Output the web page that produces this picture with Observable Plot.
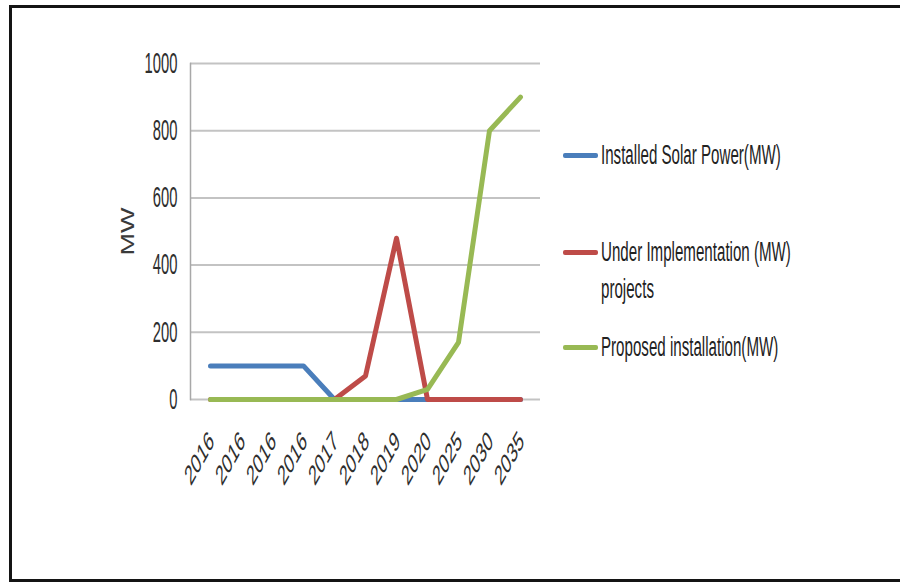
<!DOCTYPE html>
<html>
<head>
<meta charset="utf-8">
<script src="https://cdn.jsdelivr.net/npm/d3@7"></script>
<script src="https://cdn.jsdelivr.net/npm/@observablehq/plot@0.6"></script>
<style>
  html, body { margin: 0; padding: 0; background: #fff; }
  #wrap { position: relative; width: 900px; height: 582px; overflow: hidden;
          font-family: "Liberation Sans", Arial, sans-serif; }
  #frame { position: absolute; left: 9px; top: 5px; width: 940px; height: 577px;
           box-sizing: border-box; border: 3px solid #141414; }
  #chart { position: absolute; left: 0; top: 0; }
  .item { position: absolute; left: 563px; }
  .swatch { position: absolute; left: 0; width: 35px; height: 5px; border-radius: 2px; }
  .label { position: absolute; left: 38px; top: 0; white-space: nowrap; font-size: 27px;
           line-height: 37px; color: #222; transform: scaleX(0.56); transform-origin: 0 0; }
</style>
</head>
<body>
<div id="wrap">
  <div id="frame"></div>
  <div id="chart"></div>
  <div id="legend"></div>
</div>
<script>
// Category labels along the x axis (the first four share the year 2016)
const years = ["2016", "2016", "2016", "2016", "2017", "2018", "2019", "2020", "2025", "2030", "2035"];

// Capacity per category, in MW
const installed = [100, 100, 100, 100, 0, 0, 0, 0, 0, 0, 0];
const underImplementation = [0, 0, 0, 0, 0, 70, 480, 0, 0, 0, 0];
const proposed = [0, 0, 0, 0, 0, 0, 0, 30, 170, 800, 900];

const seriesNames = ["Installed Solar Power(MW)", "Under Implementation (MW)\nprojects", "Proposed installation(MW)"];
const yTicks = [0, 200, 400, 600, 800, 1000];

const seriesValues = [installed, underImplementation, proposed];
const colors = ["#4a7ebb", "#be4b48", "#98b954"];

const rows = seriesValues.flatMap((vals, s) =>
  vals.map((v, i) => ({series: s, index: i, value: v}))
);

const lineMarks = seriesValues.map((_, s) =>
  Plot.line(rows.filter(r => r.series === s), {
    x: "index", y: "value", stroke: colors[s], strokeWidth: 5,
    strokeLinejoin: "round", strokeLinecap: "round"
  })
);

const chart = Plot.plot({
  width: 900,
  height: 582,
  marginLeft: 190,
  marginRight: 360,
  marginTop: 63,
  marginBottom: 183,
  style: {background: "transparent", fontFamily: "Liberation Sans, Arial, sans-serif"},
  x: {type: "point", domain: d3.range(years.length), padding: 0.5, axis: null},
  y: {domain: [0, 1000], axis: null},
  marks: [
    Plot.ruleY(yTicks, {stroke: "#c3c3c3", strokeWidth: 2}),
    Plot.frame({anchor: "left", stroke: "#a8a8a8", strokeWidth: 1.5}),
    Plot.text(yTicks, {
      y: d => d, text: d => String(d), frameAnchor: "left", textAnchor: "end",
      dx: -13, fontSize: 29, fill: "#2e2e2e"
    }),
    Plot.text(d3.range(years.length), {
      x: d => d, text: d => years[d], frameAnchor: "bottom", rotate: -45,
      textAnchor: "end", lineAnchor: "middle", dy: 37, dx: 1, fontSize: 28,
      fill: "#2e2e2e"
    }),
    Plot.text(["MW"], {
      text: d => d, frameAnchor: "left", rotate: -90, dx: -62, fontSize: 27,
      textAnchor: "middle", lineAnchor: "middle", fill: "#3a3a3a"
    }),
    ...lineMarks
  ]
});

// Narrow the label glyphs horizontally, keeping each label's anchor in place
function narrowText(t, s) {
  const tr = t.getAttribute("transform") || "";
  const m = tr.match(/^\s*(translate\([^)]*\))(.*)$/);
  if (m) {
    t.setAttribute("transform", `${m[1]} scale(${s},1)${m[2]}`);
  } else {
    const x = +t.getAttribute("x") || 0, y = +t.getAttribute("y") || 0;
    t.removeAttribute("x");
    t.removeAttribute("y");
    t.setAttribute("transform", `translate(${x},${y}) scale(${s},1) ${tr}`);
  }
}
chart.querySelectorAll("text").forEach(t => {
  const tr = t.getAttribute("transform") || "";
  if (/rotate\(-90/.test(tr)) narrowText(t, 0.66);
  else if (/rotate\(-45/.test(tr)) narrowText(t, 0.55);
  else narrowText(t, 0.51);
});

document.getElementById("chart").appendChild(chart);

// Legend on the right
const legendCenters = [155.5, 252, 347];
const legend = document.getElementById("legend");
seriesNames.forEach((name, s) => {
  const item = document.createElement("div");
  item.className = "item";
  item.style.top = (legendCenters[s] - 18.5) + "px";
  const sw = document.createElement("div");
  sw.className = "swatch";
  sw.style.background = colors[s];
  sw.style.top = "16px";
  const lb = document.createElement("div");
  lb.className = "label";
  name.split("\n").forEach((line, k) => {
    if (k) lb.appendChild(document.createElement("br"));
    lb.appendChild(document.createTextNode(line));
  });
  item.appendChild(sw);
  item.appendChild(lb);
  legend.appendChild(item);
});
</script>
</body>
</html>
